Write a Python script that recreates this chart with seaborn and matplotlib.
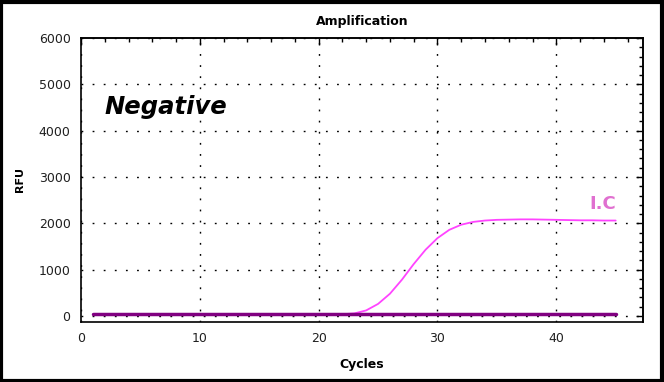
import numpy as np
import pandas as pd
import seaborn as sns
import matplotlib
matplotlib.use("Agg")
import matplotlib.pyplot as plt
from matplotlib.ticker import MultipleLocator
from matplotlib.patches import Rectangle

cycles = list(range(1, 46))
ic_rfu = [30, 30, 30, 30, 30, 30, 30, 30, 30, 30,
          30, 30, 30, 30, 30, 30, 30, 30, 30, 32,
          34, 38, 55, 120, 260, 480, 780, 1120, 1430, 1680,
          1860, 1970, 2030, 2060, 2075, 2080, 2085, 2085, 2080, 2075,
          2070, 2065, 2065, 2060, 2060]
target_rfu = [50] * 45

sns.set_theme(style="white")
plt.rcParams['font.family'] = ['DejaVu Sans']

fig = plt.figure(figsize=(6.64, 3.82), dpi=100)
ax = fig.add_axes([81/664, 1 - 322/382, (643-81)/664, (322-38)/382])

df = pd.DataFrame({"Cycles": cycles + cycles,
                   "RFU": ic_rfu + target_rfu,
                   "series": ["I.C"] * 45 + ["Target"] * 45})
sns.lineplot(data=df[df.series == "I.C"], x="Cycles", y="RFU", color="#ff44ff", lw=1.3, ax=ax)
sns.lineplot(data=df[df.series == "Target"], x="Cycles", y="RFU", color="#800080", lw=2.5, ax=ax)

ax.set_xlim(0, 47.3)
ax.set_ylim(-130, 6000)
for a in (ax,):
    a.xaxis.set_major_locator(MultipleLocator(10))
    a.xaxis.set_minor_locator(MultipleLocator(2))
    a.yaxis.set_major_locator(MultipleLocator(1000))
    a.yaxis.set_minor_locator(MultipleLocator(200))
ax.grid(True, which="major", color="black", linestyle=(0, (1.3, 6.7)), lw=1.0)
ax.tick_params(which="both", direction="inout", color="black",
               labelsize=9, labelcolor="#202020")
ax.tick_params(which="major", length=8, width=1)
ax.tick_params(which="minor", length=5, width=1)

# top and right ticks pointing inward
sec_x = ax.secondary_xaxis("top")
sec_x.xaxis.set_major_locator(MultipleLocator(10))
sec_x.xaxis.set_minor_locator(MultipleLocator(2))
sec_x.tick_params(which="both", direction="in", labeltop=False, color="black", width=1)
sec_x.tick_params(which="major", length=5)
sec_x.tick_params(which="minor", length=3)
sec_y = ax.secondary_yaxis("right")
sec_y.yaxis.set_major_locator(MultipleLocator(1000))
sec_y.yaxis.set_minor_locator(MultipleLocator(200))
sec_y.tick_params(which="both", direction="in", labelright=False, color="black", width=1)
sec_y.tick_params(which="major", length=5)
sec_y.tick_params(which="minor", length=3)

for s in ax.spines.values():
    s.set_color("black")
    s.set_linewidth(1.2)

ax.set_xlabel("Cycles", fontsize=9, fontweight="bold", labelpad=9, color="black")
ax.set_ylabel("RFU", fontsize=8, fontweight="bold", labelpad=10, color="black")
ax.set_title("Amplification", fontsize=9, fontweight="bold", pad=9, color="black")

ax.text(2.0, 4500, "Negative", fontsize=17.5, fontweight="bold", fontstyle="italic",
        color="black", va="center", ha="left")
ax.text(42.8, 2420, "I.C", fontsize=13, fontweight="bold", color="#e070d0",
        va="center", ha="left")

fig.patches.append(Rectangle((0.002, 0.003), 0.995, 0.993, transform=fig.transFigure,
                             fill=False, edgecolor="black", lw=3))

fig.savefig("out.png", dpi=100, facecolor="white")
